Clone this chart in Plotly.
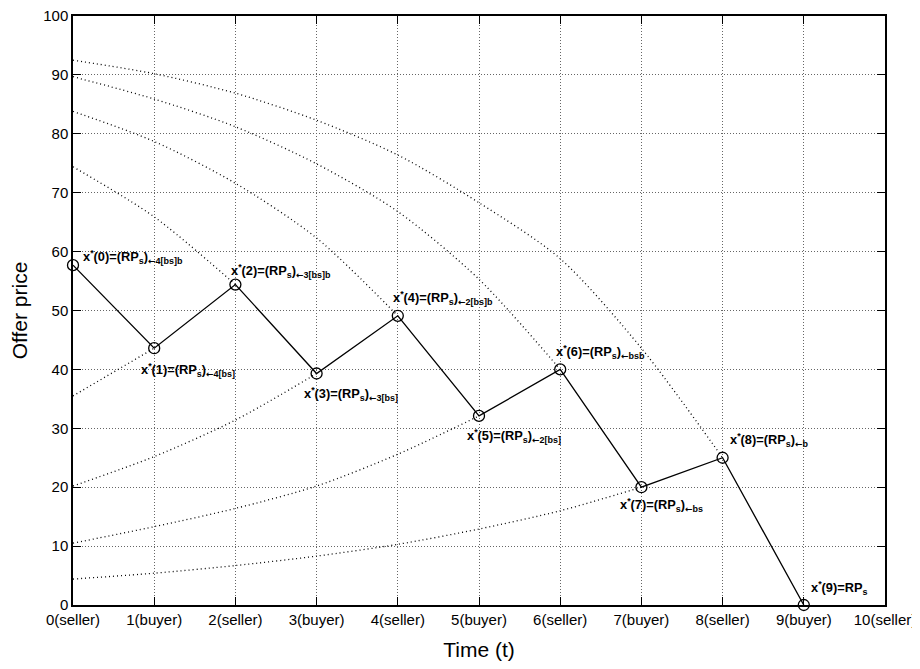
import plotly.graph_objects as go

# ---- data ----
t_steps = list(range(10))
offers = [57.7, 43.6, 54.4, 39.3, 49.1, 32.1, 40.0, 20.0, 25.0, 0.0]

tick_values = list(range(11))
tick_labels = ["0(seller)", "1(buyer)", "2(seller)", "3(buyer)", "4(seller)",
               "5(buyer)", "6(seller)", "7(buyer)", "8(seller)", "9(buyer)",
               "10(seller)"]

# dotted reservation-price curves (values at integer t, starting at t=0)
seller_curve_a = [92.5, 90.2, 86.9, 82.3, 76.4, 68.3, 58.8, 43.6, 25.0]
seller_curve_b = [89.7, 85.9, 81.2, 74.9, 66.8, 55.3, 40.0]
seller_curve_c = [83.8, 78.7, 71.6, 62.3, 49.1]
seller_curve_d = [74.4, 65.9, 54.4]
buyer_curve_a = [35.5, 43.6]
buyer_curve_b = [20.2, 25.2, 31.4, 39.3]
buyer_curve_c = [10.5, 13.3, 16.4, 20.2, 25.6, 32.1]
buyer_curve_d = [4.4, 5.4, 6.7, 8.3, 10.3, 12.9, 16.0, 20.0]

ARROW = '<span style="font-family:DejaVu Sans">\u2190</span>'
label_parts = [
    ("0", "4[bs]b"), ("1", "4[bs]"), ("2", "3[bs]b"), ("3", "3[bs]"),
    ("4", "2[bs]b"), ("5", "2[bs]"), ("6", "bsb"), ("7", "bs"), ("8", "b"),
]
labels = ["x<sup>*</sup>(%s)=(RP<sub>s</sub>)<sub>%s%s</sub>" % (k, ARROW, s)
          for k, s in label_parts]
labels.append("x<sup>*</sup>(9)=RP<sub>s</sub>")

# label pixel offsets (style, not data)
label_shift = [(8, 8), (-15, -22), (-6, 14), (-15, -20), (-7, 18),
               (-14, -20), (-6, 17), (-23, -18), (5, 18), (5, 17)]

FONT = "Liberation Sans, Arial, Helvetica, sans-serif"

fig = go.Figure()

curves = [seller_curve_a, seller_curve_b, seller_curve_c, seller_curve_d,
          buyer_curve_a, buyer_curve_b, buyer_curve_c, buyer_curve_d]
for c in curves:
    fig.add_trace(go.Scatter(
        x=t_steps[:len(c)], y=c, mode="lines",
        line=dict(color="black", width=1.3, dash="1px,3px", shape="spline", smoothing=0.8),
        hoverinfo="skip", showlegend=False))

fig.add_trace(go.Scatter(
    x=t_steps, y=offers, mode="lines+markers",
    line=dict(color="black", width=1.3),
    marker=dict(symbol="circle-open", size=11, color="black", line=dict(width=1.3)),
    cliponaxis=False, showlegend=False))

for i, (txt, (dx, dy)) in enumerate(zip(labels, label_shift)):
    fig.add_annotation(x=t_steps[i], y=offers[i], xref="x", yref="y",
                       text=txt, showarrow=False, xanchor="left", yanchor="middle",
                       xshift=dx, yshift=dy,
                       font=dict(family=FONT, size=12.8, color="black", weight="bold"))

# the page body adds an 8px margin, so the figure is sized to fit 920x669
fig.update_layout(
    width=912, height=653,
    margin=dict(l=65, r=35, t=8, b=56),
    paper_bgcolor="white", plot_bgcolor="white",
    font=dict(family=FONT, color="black"),
    showlegend=False,
)
fig.update_xaxes(
    range=[0, 10], tickvals=tick_values, ticktext=tick_labels,
    ticks="inside", ticklen=8, tickwidth=1.3, tickcolor="black",
    showline=True, linecolor="black", linewidth=1.5, mirror="allticks",
    showgrid=True, gridcolor="#666666", gridwidth=1, griddash="1px,2px",
    zeroline=False, tickfont=dict(size=15), automargin=False,
    ticklabeloverflow="allow",
    title=dict(text="Time (t)", font=dict(size=21), standoff=16),
)
fig.update_yaxes(
    range=[0, 100], tickvals=list(range(0, 101, 10)),
    ticks="inside", ticklen=8, tickwidth=1.3, tickcolor="black",
    showline=True, linecolor="black", linewidth=1.5, mirror="allticks",
    showgrid=True, gridcolor="#666666", gridwidth=1, griddash="1px,2px",
    zeroline=False, tickfont=dict(size=15), automargin=False,
    ticklabeloverflow="allow",
    title=dict(text="Offer price", font=dict(size=21), standoff=17),
)

fig.write_html("out.html", config={"displayModeBar": False})
